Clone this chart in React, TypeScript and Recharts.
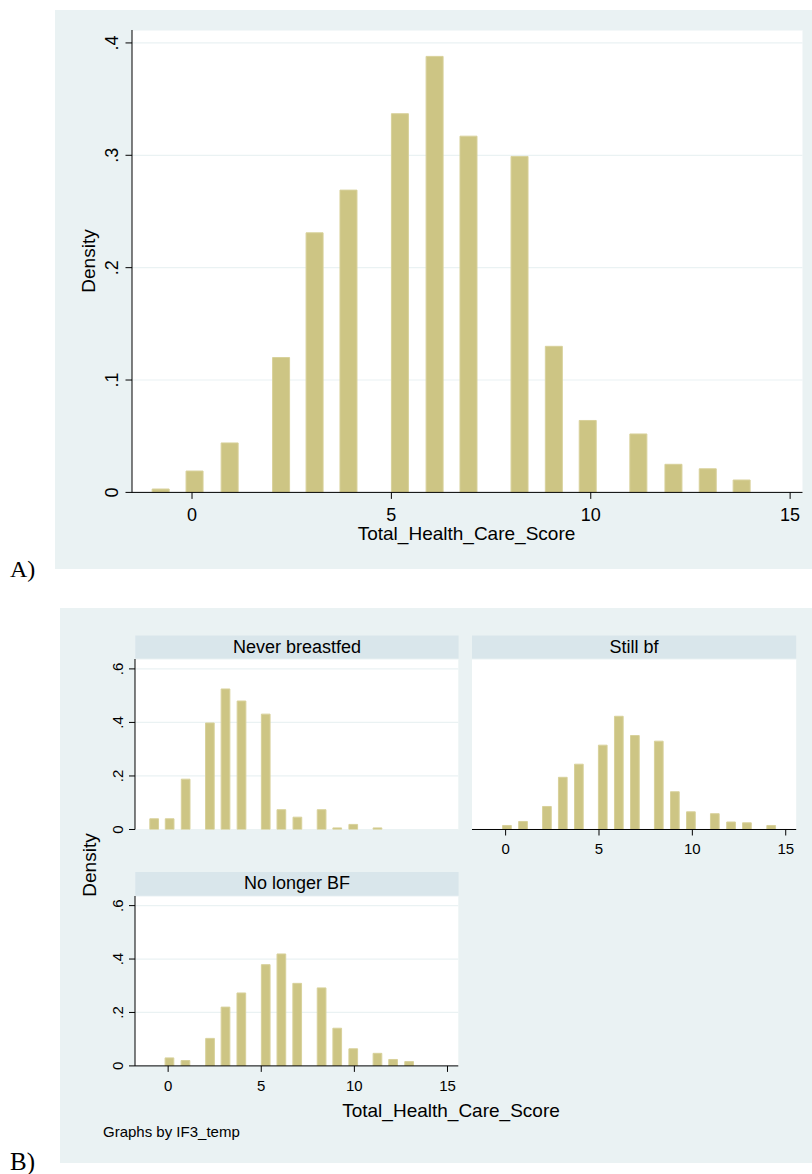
import React from 'react'
import { ComposedChart, Bar, XAxis, YAxis, CartesianGrid } from 'recharts'

// A) all cases — bin midpoints and densities
const binsAll = [-0.78, 0.07, 0.95, 2.24, 3.08, 3.93, 5.22, 6.09, 6.94, 8.22, 9.08, 9.93, 11.2, 12.08, 12.94, 13.79]
const densAll = [0.003, 0.019, 0.044, 0.12, 0.231, 0.269, 0.337, 0.388, 0.317, 0.299, 0.13, 0.064, 0.052, 0.025, 0.021, 0.011]

// B) by IF3_temp
const binsNever = [-0.73, 0.1, 0.96, 2.26, 3.1, 3.96, 5.26, 6.1, 6.96, 8.26, 9.1, 9.96, 11.26]
const densNever = [0.04, 0.04, 0.188, 0.398, 0.525, 0.48, 0.431, 0.074, 0.046, 0.074, 0.006, 0.019, 0.006]

const binsStill = [0.05, 0.91, 2.19, 3.04, 3.9, 5.18, 6.04, 6.9, 8.18, 9.04, 9.9, 11.18, 12.05, 12.9, 14.2]
const densStill = [0.015, 0.03, 0.086, 0.195, 0.244, 0.315, 0.423, 0.351, 0.33, 0.141, 0.066, 0.059, 0.028, 0.025, 0.015]

const binsNoLonger = [0.09, 0.95, 2.27, 3.1, 3.95, 5.26, 6.1, 6.95, 8.26, 9.1, 9.96, 11.26, 12.1, 12.96]
const densNoLonger = [0.03, 0.02, 0.103, 0.22, 0.273, 0.379, 0.419, 0.309, 0.292, 0.141, 0.064, 0.047, 0.024, 0.016]

const xTicks = [0, 5, 10, 15]
const yTicksA = [0, 0.1, 0.2, 0.3, 0.4]
const yTicksB = [0, 0.2, 0.4, 0.6]

const FONT = "'Liberation Sans', Arial, Helvetica, sans-serif"
const BG = '#eaf2f3'
const STRIP = '#d9e6eb'
const BAR_FILL = '#cdc584'
const BAR_LINE = '#d8d19b'

const toRows = (xs: number[], ds: number[]) => xs.map((x, i) => ({ x, d: ds[i] }))
const fmt = (v: number) => (v === 0 ? '0' : String(v).replace(/^0/, ''))

interface HistProps {
  rows: { x: number; d: number }[]
  plotX: number
  plotY: number
  plotW: number
  plotH: number
  xDomain: [number, number]
  yDomain: [number, number]
  yTicks: number[]
  barSize: number
  showX: boolean
  showY: boolean
  fontSize: number
  tickSize: number
  yGap: number
  xGap: number
}

function Hist(p: HistProps) {
  const ml = 70, mr = 4, mt = 4, mb = 40
  const yw = 60, xh = 34
  const YTick = ({ x, y, payload }: any) => (
    <text x={x} y={y} transform={`rotate(-90 ${x} ${y})`} textAnchor="middle" fontSize={p.fontSize} fontFamily={FONT} fill="#000">
      {fmt(payload.value)}
    </text>
  )
  const XTick = ({ x, y, payload }: any) => (
    <text x={x} y={y} dy="0.71em" textAnchor="middle" fontSize={p.fontSize} fontFamily={FONT} fill="#000">
      {payload.value}
    </text>
  )
  return (
    <div style={{ position: 'absolute', left: p.plotX - ml, top: p.plotY - mt }}>
      <ComposedChart
        width={p.plotW + ml + mr}
        height={p.plotH + mt + mb}
        data={p.rows}
        margin={{ top: mt, right: mr, left: ml - yw, bottom: mb - xh }}
      >
        <CartesianGrid vertical={false} stroke={BG} strokeWidth={1.2} fill="#fff" />
        <XAxis
          type="number"
          dataKey="x"
          domain={p.xDomain}
          ticks={xTicks}
          allowDataOverflow
          height={xh}
          axisLine={p.showX ? { stroke: '#000' } : false}
          tickLine={p.showX ? { stroke: '#000' } : false}
          tickSize={p.tickSize}
          tickMargin={p.xGap}
          tick={p.showX ? <XTick /> : false}
        />
        <YAxis
          type="number"
          domain={p.yDomain}
          ticks={p.yTicks}
          allowDataOverflow
          width={yw}
          axisLine={p.showY ? { stroke: '#000' } : false}
          tickLine={p.showY ? { stroke: '#000' } : false}
          tickSize={p.tickSize}
          tickMargin={p.yGap}
          tick={p.showY ? <YTick /> : false}
        />
        <Bar dataKey="d" barSize={p.barSize} fill={BAR_FILL} stroke={BAR_LINE} strokeWidth={1} isAnimationActive={false} />
      </ComposedChart>
    </div>
  )
}

export default function App() {
  const text = { fontFamily: FONT, fill: '#000' }
  return (
    <div style={{ position: 'absolute', left: 0, top: 0, width: 812, height: 1174, background: '#fff', overflow: 'hidden' }}>
      <div style={{ position: 'absolute', left: 55, top: 10, width: 757, height: 559, background: BG }} />
      <div style={{ position: 'absolute', left: 60, top: 608, width: 752, height: 555, background: BG }} />

      <Hist
        rows={toRows(binsAll, densAll)}
        plotX={132} plotY={29.6} plotW={670.5} plotH={462.4}
        xDomain={[-1.505, 15.31]} yDomain={[0, 0.4115]} yTicks={yTicksA}
        barSize={17} showX showY fontSize={18} tickSize={6.5} yGap={7.8} xGap={9}
      />
      <Hist
        rows={toRows(binsNever, densNever)}
        plotX={135.3} plotY={658.6} plotW={323.3} plotH={170.5}
        xDomain={[-1.78, 15.58]} yDomain={[0, 0.637]} yTicks={yTicksB}
        barSize={8.7} showX={false} showY fontSize={15} tickSize={6} yGap={6} xGap={8}
      />
      <Hist
        rows={toRows(binsStill, densStill)}
        plotX={472} plotY={658.6} plotW={324.2} plotH={170.5}
        xDomain={[-1.8, 15.56]} yDomain={[0, 0.637]} yTicks={yTicksB}
        barSize={8.7} showX showY={false} fontSize={15} tickSize={6} yGap={6} xGap={8}
      />
      <Hist
        rows={toRows(binsNoLonger, densNoLonger)}
        plotX={135.3} plotY={895.7} plotW={323.3} plotH={169.9}
        xDomain={[-1.78, 15.58]} yDomain={[0, 0.636]} yTicks={yTicksB}
        barSize={8.7} showX showY fontSize={15} tickSize={6} yGap={6} xGap={8}
      />

      <svg width={812} height={1174} style={{ position: 'absolute', left: 0, top: 0, pointerEvents: 'none' }}>
        <text x={10} y={577} fontSize={24} fontFamily="'Liberation Serif', 'Times New Roman', serif">A)</text>
        <text x={10} y={1169.5} fontSize={25} fontFamily="'Liberation Serif', 'Times New Roman', serif">B)</text>

        <text {...text} x={94.5} y={261} fontSize={19} textAnchor="middle" transform="rotate(-90 94.5 261)">Density</text>
        <text {...text} x={466.5} y={540} fontSize={19} textAnchor="middle">Total_Health_Care_Score</text>

        <rect x={135.3} y={635.5} width={323.3} height={23.1} fill={STRIP} />
        <rect x={472} y={635.5} width={324.2} height={23.1} fill={STRIP} />
        <rect x={135.3} y={872} width={323.3} height={23.7} fill={STRIP} />
        <text {...text} x={297} y={653} fontSize={18} textAnchor="middle">Never breastfed</text>
        <text {...text} x={634} y={653} fontSize={18} textAnchor="middle">Still bf</text>
        <text {...text} x={297} y={889} fontSize={18} textAnchor="middle">No longer BF</text>

        <text {...text} x={96} y={865} fontSize={19} textAnchor="middle" transform="rotate(-90 96 865)">Density</text>
        <text {...text} x={451} y={1117} fontSize={19} textAnchor="middle">Total_Health_Care_Score</text>
        <text {...text} x={103} y={1137} fontSize={15}>Graphs by IF3_temp</text>
      </svg>
    </div>
  )
}
